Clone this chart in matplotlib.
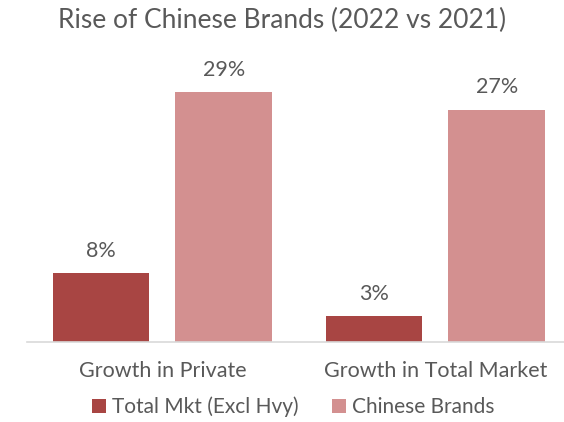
import numpy as np
import matplotlib.pyplot as plt

# Growth figures, 2022 vs 2021
categories = ["Growth in Private", "Growth in Total Market"]
total_mkt = [0.08, 0.03]
chinese_brands = [0.29, 0.27]
series_names = ["Total Mkt (Excl Hvy)", "Chinese Brands"]

dark_red = "#A84543"
light_red = "#D39090"
text_grey = "#595959"

plt.rcParams['font.family'] = ['Lato', 'DejaVu Sans']

fig = plt.figure(figsize=(5.64, 4.22), dpi=100)
ax = fig.add_axes([0.048, 0.19, 0.952, 0.652])

x = np.arange(len(categories))
off = 0.225
w = 0.355
b1 = ax.bar(x - off, total_mkt, w, color=dark_red, label=series_names[0])
b2 = ax.bar(x + off, chinese_brands, w, color=light_red, label=series_names[1])

for bars, vals in ((b1, total_mkt), (b2, chinese_brands)):
    for r, v in zip(bars, vals):
        ax.annotate("%d%%" % round(v * 100),
                    (r.get_x() + r.get_width() / 2, v),
                    xytext=(0, 9), textcoords="offset points",
                    ha="center", va="bottom", fontsize=15.5, color=text_grey)

ax.set_xlim(-0.496, 1.471)
ax.set_ylim(0, 0.32)
ax.set_xticks(x)
ax.set_xticklabels(categories, fontsize=15.5, color=text_grey)
ax.tick_params(axis="x", length=0, pad=14)
ax.set_yticks([])
for s in ("top", "right", "left"):
    ax.spines[s].set_visible(False)
ax.spines["bottom"].set_color("#D9D9D9")
ax.spines["bottom"].set_linewidth(1.2)

fig.text(0.5, 0.952, "Rise of Chinese Brands (2022 vs 2021)", ha="center",
         va="center", fontsize=19, color=text_grey)

leg = fig.legend(loc="center", bbox_to_anchor=(0.52, 0.036), ncol=2,
                 frameon=False, fontsize=15, handlelength=0.65, handleheight=0.65,
                 handletextpad=0.3, columnspacing=1.6)
for t in leg.get_texts():
    t.set_color(text_grey)

fig.savefig("out.png", dpi=100)
